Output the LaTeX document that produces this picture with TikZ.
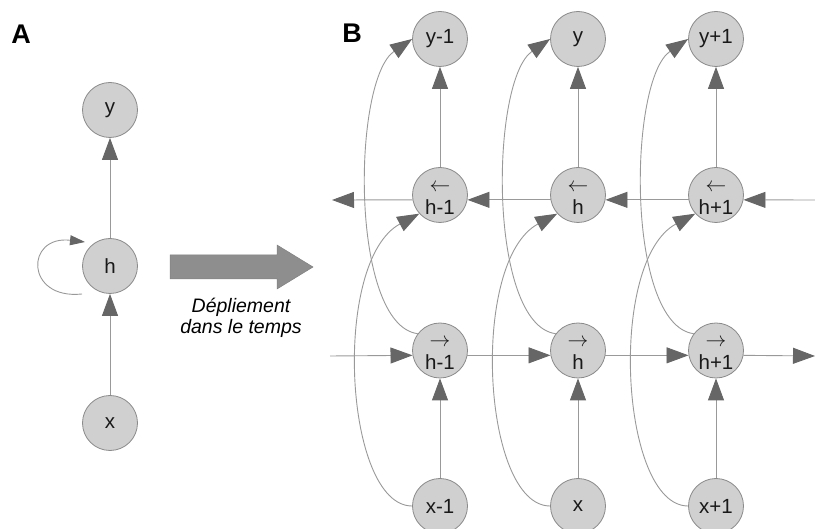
\documentclass[tikz,border=0pt]{standalone}
\usepackage{fontspec}
\setmainfont{Liberation Sans}
\usetikzlibrary{arrows.meta,calc}
\definecolor{nodefill}{HTML}{D0D0D0}
\definecolor{nodeedge}{HTML}{8A8A8A}
\definecolor{linegray}{HTML}{999999}
\definecolor{tipgray}{HTML}{666666}
\definecolor{bigarrow}{HTML}{8E8E8E}
% direction marks above the hidden-state names (the rule lowers the pair a little)
\newcommand{\bwd}{\rule{0pt}{16pt}$\leftarrow$}
\newcommand{\fwd}{\rule{0pt}{16pt}$\rightarrow$}
\begin{document}
\begin{tikzpicture}[x=1pt,y=-1pt,
  unit/.style={circle,draw=nodeedge,fill=nodefill,line width=0.8pt,
    minimum size=55pt,inner sep=0pt,align=center,
    font=\fontsize{20.5}{20}\selectfont,text=black!90},
  link/.style={draw=linegray,line width=0.9pt,
    -{Triangle[length=22pt,width=16pt,color=tipgray]}},
  selfloop/.style={draw=linegray,line width=0.9pt,
    -{Triangle[length=15pt,width=10pt,color=tipgray]}},
  panel/.style={font=\fontsize{27}{27}\selectfont\bfseries,text=black}
]
\useasboundingbox (0,0) rectangle (815,529);

% panel letters
\node[panel] (labA) at (21,34) {A};
\node[panel] (labB) at (352,33) {B};

% ---- folded network ----
\node[unit] (yA) at (110,110) {y};
\node[unit] (hA) at (110,266) {h};
\node[unit] (xA) at (110,423) {x};
\draw[link] (xA.north) -- (hA.south);
\draw[link] (hA.north) -- (yA.south);
\draw[selfloop] ($(hA)+(-28,28)$) .. controls +(-57,6) and +(-60,-7) .. ($(hA)+(-25,-24)$);

% unfolding arrow and caption
\fill[bigarrow, draw=bigarrow!90!black, line width=0.5pt]
  (170,255) -- (277,255) -- (277,245) -- (313,267) -- (277,289) -- (277,279) -- (170,279) -- cycle;
\node[font=\fontsize{19.5}{21}\selectfont\itshape, align=center] (cap) at (241,318)
  {Dépliement\\dans le temps};

% ---- unfolded bidirectional network ----
\foreach \c/\xx/\lab in {1/440/-1, 2/578/, 3/716/+1} {
  \node[unit] (y\c)  at (\xx,39)    {y\lab};
  \node[unit] (hb\c) at (\xx,195)   {\bwd\\[3pt]h\lab};
  \node[unit] (hf\c) at (\xx,350.5) {\fwd\\[3pt]h\lab};
  \node[unit] (x\c)  at (\xx,506)   {x\lab};
}

\coordinate (bin)  at (815,200);
\coordinate (bout) at (332,200);
\coordinate (fin)  at (330,356);
\coordinate (fout) at (815,356);

% backward chain (right to left)
\draw[link] (bin) -- (hb3.-10);
\draw[link] (hb3.190) -- (hb2.-10);
\draw[link] (hb2.190) -- (hb1.-10);
\draw[link] (hb1.190) -- (bout);

% forward chain (left to right)
\draw[link] (fin) -- (hf1.190);
\draw[link] (hf1.-10) -- (hf2.190);
\draw[link] (hf2.-10) -- (hf3.190);
\draw[link] (hf3.-10) -- (fout);

\foreach \c in {1,2,3} {
  \draw[link] (x\c.north) -- (hf\c.south);
  \draw[link] (hb\c.north) -- (y\c.south);
  \draw[link] (x\c.west) .. controls +(-68,0) and +(-88,47) .. (hb\c.222);
  \draw[link] (hf\c.143) .. controls +(-68,-9) and +(-60,41) .. (y\c.west);
}
\end{tikzpicture}
\end{document}
